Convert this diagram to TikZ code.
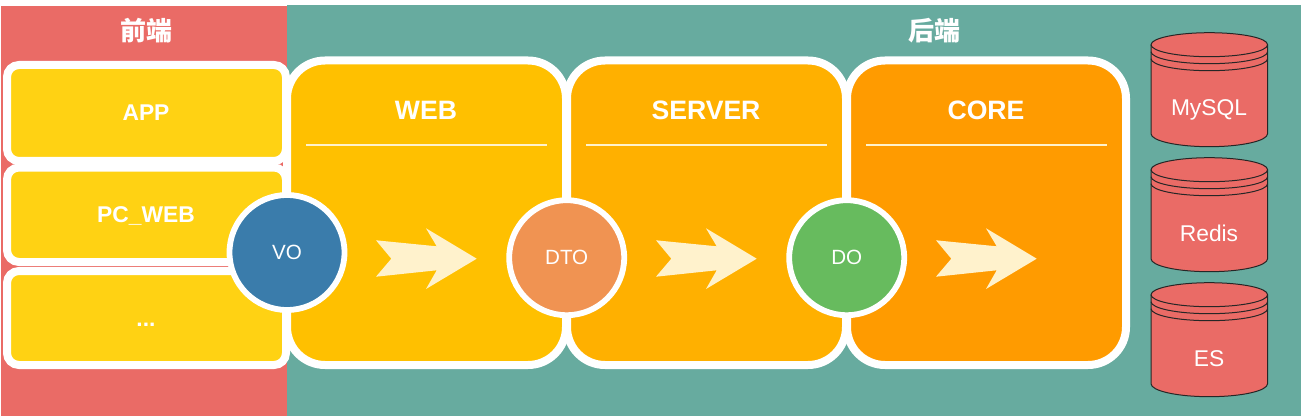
\documentclass[tikz,border=0pt]{standalone}
\usepackage{fontspec}
\setmainfont{Liberation Sans}
\newfontfamily\cjkfont{Noto Sans CJK SC}
\usetikzlibrary{positioning}
\definecolor{frontred}{HTML}{ea6b66}
\definecolor{backteal}{HTML}{67ab9f}
\definecolor{clientyellow}{HTML}{ffd213}
\definecolor{webamber}{HTML}{ffc000}
\definecolor{serveramber}{HTML}{ffb000}
\definecolor{coreorange}{HTML}{ff9b00}
\definecolor{flowcream}{HTML}{fff2cc}
\definecolor{voblue}{HTML}{3a7cab}
\definecolor{dtoorange}{HTML}{f09352}
\definecolor{dogreen}{HTML}{67bb5e}
\tikzset{
    clientbox/.style={draw=white,line width=4pt,rounded corners=6pt,fill=clientyellow,minimum width=139.5pt},
    clientname/.style={anchor=base,text=white,font=\fontsize{11.4}{13}\selectfont\bfseries},
    layerbox/.style={draw=white,line width=4pt,rounded corners=19pt,minimum width=139.5pt,minimum height=152.25pt},
    layertitle/.style={text=white,font=\fontsize{13.3}{15}\selectfont\bfseries},
    sidetitle/.style={text=white,font=\cjkfont\fontsize{13}{15}\selectfont\bfseries},
    objcircle/.style={circle,draw=white,line width=2.9pt,minimum size=57.5pt,inner sep=0pt,
        text=white,font=\fontsize{10.3}{12}\selectfont},
    dblabel/.style={anchor=base,text=white,font=\fontsize{11.4}{13}\selectfont},
    dbline/.style={draw=black!85,line width=0.5pt},
    layerrule/.style={draw=flowcream,line width=1pt}
}
% one store: name, y of the top ellipse, label
\newcommand{\dbstore}[3]{
    \draw[dbline,fill=frontred](1151,#2) -- (1151,{#2+89}) arc (180:360:29.15pt and 6.5pt) -- (1267.6,#2) arc (0:180:29.15pt and 6pt) -- cycle;
    \draw[dbline](1151,#2) arc (180:360:29.15pt and 6pt);
    \draw[dbline](1151,{#2+7}) arc (180:360:29.15pt and 6pt);
    \draw[dbline](1151,{#2+14}) arc (180:360:29.15pt and 6pt);
    \node[dblabel] (#1) at (1209,{#2+71.3}) {#3};
}
% one flow arrow, shifted along x
\newcommand{\flowarrow}[1]{
    \fill[flowcream,shift={(#1,0)}](656,240.3) -- (716.7,246.3) -- (706,228.3) -- (756.7,258.7)
        -- (706,289) -- (716.7,270.3) -- (656,276.7) -- (671.3,258.7) -- cycle;
}

\begin{document}
\begin{tikzpicture}[x=0.5pt,y=-0.5pt]
    \useasboundingbox (0,0) rectangle (1301,417);

    \fill[frontred](1,6) rectangle (287,415.5);
    \fill[backteal](287,5) rectangle (1301,415.5);

    \node[sidetitle] (fronttitle) at (146,30.5) {前端};
    \node[sidetitle] (backtitle) at (934,30.5) {后端};

    \node[clientbox,minimum height=48pt] (app) at (146.5,113) {};
    \node[clientbox,minimum height=47.25pt] (pcweb) at (146.5,214.75) {};
    \node[clientbox,minimum height=47pt] (other) at (146.5,318) {};

    \node[clientname] (appname) at (146,120.7) {APP};
    \node[clientname] (pcwebname) at (146,222.7) {PC\_WEB};
    \node[clientname] (othername) at (146,326) {...};

    \node[layerbox,fill=webamber] (web) at (426.5,212.75) {};
    \node[layerbox,fill=serveramber] (server) at (706.5,212.75) {};
    \node[layerbox,fill=coreorange] (core) at (986.5,212.75) {};

    \node[layertitle] (webtitle) at (426,110) {WEB};
    \node[layertitle] (servertitle) at (706,110) {SERVER};
    \node[layertitle] (coretitle) at (986,110) {CORE};

    \draw[layerrule](306,145) -- (547,145);
    \draw[layerrule](586,145) -- (827,145);
    \draw[layerrule](866,145) -- (1107,145);

    \flowarrow{-280}
    \flowarrow{0}
    \flowarrow{280}

    \node[objcircle,fill=voblue] (vo) at (287,252.5) {VO};
    \node[objcircle,fill=dtoorange] (dto) at (566.7,257.7) {DTO};
    \node[objcircle,fill=dogreen] (do) at (846.7,257.7) {DO};

    \dbstore{mysql}{44.7}{MySQL}
    \dbstore{redis}{169.7}{Redis}
    \dbstore{es}{294.7}{ES}
\end{tikzpicture}
\end{document}
